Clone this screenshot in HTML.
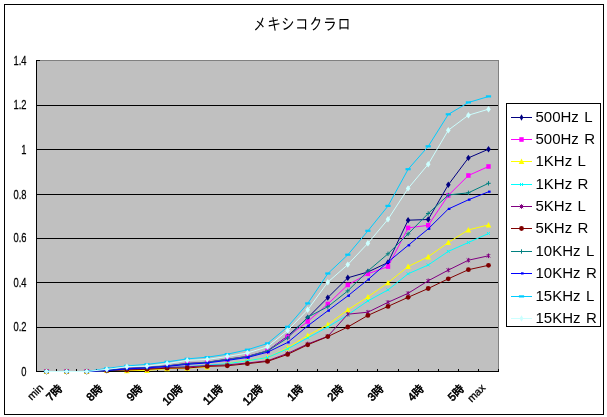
<!DOCTYPE html>
<html lang="ja"><head><meta charset="utf-8"><title>メキシコクラロ</title>
<style>
html,body{margin:0;padding:0;background:#fff;}
body{width:607px;height:417px;overflow:hidden;}
svg{display:block;}
text{font-family:"Liberation Sans","IPAGothic","Noto Sans CJK JP",sans-serif;fill:#000;}
.t{font-family:"Liberation Sans","IPAGothic","Noto Sans CJK JP",sans-serif;font-size:16.5px;}
.y{font-size:12.5px;stroke:#000;stroke-width:0.25px;}
.x{font-size:10.7px;stroke:#000;stroke-width:0.3px;}
.k{font-size:11.3px;stroke-width:0.6px;}
.l{font-size:15px;word-spacing:1.2px;}
</style></head><body>
<svg width="607" height="417" viewBox="0 0 607 417">
<rect x="0" y="0" width="607" height="417" fill="#fff"/>
<rect x="4.5" y="4.5" width="599" height="410" fill="#fff" stroke="#000" stroke-width="1" shape-rendering="crispEdges"/>
<text class="t" transform="translate(302,30) scale(0.85,1)" text-anchor="middle">メキシコクラロ</text>
<g shape-rendering="crispEdges">
<rect x="37" y="60" width="462" height="311" fill="#C0C0C0"/>
<path d="M37,60.5H499M498.5,60V371" stroke="#808080" stroke-width="1" fill="none"/>
<path d="M37,105.5H498M37,149.5H498M37,194.5H498M37,238.5H498M37,282.5H498M37,327.5H498" stroke="#000" stroke-width="1" fill="none"/>
<path d="M36.5,60V372M36,371.5H499" stroke="#000" stroke-width="1" fill="none"/>
<path d="M36,60.5H40" stroke="#000" stroke-width="1" fill="none"/>
<path d="M56.5,369V372M76.5,369V372M96.5,369V372M116.5,369V372M136.5,369V372M157.5,369V372M177.5,369V372M197.5,369V372M217.5,369V372M237.5,369V372M257.5,369V372M277.5,369V372M297.5,369V372M317.5,369V372M337.5,369V372M357.5,369V372M377.5,369V372M398.5,369V372M418.5,369V372M438.5,369V372M458.5,369V372M478.5,369V372M498.5,369V372" stroke="#000" stroke-width="1" fill="none"/>
</g>
<g class="y">
<text transform="translate(26.5,64.5) scale(0.75,1)" text-anchor="end">1.4</text>
<text transform="translate(26.5,108.5) scale(0.75,1)" text-anchor="end">1.2</text>
<text transform="translate(26.5,153.5) scale(0.75,1)" text-anchor="end">1</text>
<text transform="translate(26.5,198.5) scale(0.75,1)" text-anchor="end">0.8</text>
<text transform="translate(26.5,242.0) scale(0.75,1)" text-anchor="end">0.6</text>
<text transform="translate(26.5,286.5) scale(0.75,1)" text-anchor="end">0.4</text>
<text transform="translate(26.5,331.0) scale(0.75,1)" text-anchor="end">0.2</text>
<text transform="translate(26.5,375.5) scale(0.75,1)" text-anchor="end">0</text>
</g>
<g class="x">
<text transform="translate(44.0,388.5) rotate(-45)" text-anchor="end">min</text>
<text class="k" transform="translate(63.2,389.2) rotate(-45)" text-anchor="end">7時</text>
<text class="k" transform="translate(103.4,389.2) rotate(-45)" text-anchor="end">8時</text>
<text class="k" transform="translate(143.6,389.2) rotate(-45)" text-anchor="end">9時</text>
<text class="k" transform="translate(183.8,389.2) rotate(-45)" text-anchor="end">10時</text>
<text class="k" transform="translate(223.9,389.2) rotate(-45)" text-anchor="end">11時</text>
<text class="k" transform="translate(264.1,389.2) rotate(-45)" text-anchor="end">12時</text>
<text class="k" transform="translate(304.3,389.2) rotate(-45)" text-anchor="end">1時</text>
<text class="k" transform="translate(344.4,389.2) rotate(-45)" text-anchor="end">2時</text>
<text class="k" transform="translate(384.6,389.2) rotate(-45)" text-anchor="end">3時</text>
<text class="k" transform="translate(424.8,389.2) rotate(-45)" text-anchor="end">4時</text>
<text class="k" transform="translate(465.0,389.2) rotate(-45)" text-anchor="end">5時</text>
<text transform="translate(486.0,388.5) rotate(-45)" text-anchor="end">max</text>
</g>
<g fill="none" stroke-width="1">
<polyline points="46.5,371.5 66.6,371.5 86.7,371.5 106.8,370.4 126.9,368.4 147.0,367.4 167.1,365.9 187.2,363.4 207.2,362.2 227.3,359.2 247.4,356.4 267.5,350.8 287.6,336.2 307.7,317.8 327.8,297.6 347.8,277.8 367.9,272 388.0,262.5 408.1,220.2 428.2,219.5 448.3,184.8 468.4,157.9 488.5,149.2" stroke="#000080" fill="none"/>
<g><path d="M44.2,371.5L46.5,368.3L48.8,371.5L46.5,374.7Z" fill="#000080"/><path d="M64.3,371.5L66.6,368.3L68.89999999999999,371.5L66.6,374.7Z" fill="#000080"/><path d="M84.4,371.5L86.7,368.3L89.0,371.5L86.7,374.7Z" fill="#000080"/><path d="M104.5,370.4L106.8,367.2L109.1,370.4L106.8,373.59999999999997Z" fill="#000080"/><path d="M124.60000000000001,368.4L126.9,365.2L129.20000000000002,368.4L126.9,371.59999999999997Z" fill="#000080"/><path d="M144.7,367.4L147.0,364.2L149.3,367.4L147.0,370.59999999999997Z" fill="#000080"/><path d="M164.79999999999998,365.9L167.1,362.7L169.4,365.9L167.1,369.09999999999997Z" fill="#000080"/><path d="M184.89999999999998,363.4L187.2,360.2L189.5,363.4L187.2,366.59999999999997Z" fill="#000080"/><path d="M204.89999999999998,362.2L207.2,359.0L209.5,362.2L207.2,365.4Z" fill="#000080"/><path d="M225.0,359.2L227.3,356.0L229.60000000000002,359.2L227.3,362.4Z" fill="#000080"/><path d="M245.1,356.4L247.4,353.2L249.70000000000002,356.4L247.4,359.59999999999997Z" fill="#000080"/><path d="M265.2,350.8L267.5,347.6L269.8,350.8L267.5,354.0Z" fill="#000080"/><path d="M285.3,336.2L287.6,333.0L289.90000000000003,336.2L287.6,339.4Z" fill="#000080"/><path d="M305.4,317.8L307.7,314.6L310.0,317.8L307.7,321.0Z" fill="#000080"/><path d="M325.5,297.6L327.8,294.40000000000003L330.1,297.6L327.8,300.8Z" fill="#000080"/><path d="M345.5,277.8L347.8,274.6L350.1,277.8L347.8,281.0Z" fill="#000080"/><path d="M365.59999999999997,272L367.9,268.8L370.2,272L367.9,275.2Z" fill="#000080"/><path d="M385.7,262.5L388.0,259.3L390.3,262.5L388.0,265.7Z" fill="#000080"/><path d="M405.8,220.2L408.1,217.0L410.40000000000003,220.2L408.1,223.39999999999998Z" fill="#000080"/><path d="M425.9,219.5L428.2,216.3L430.5,219.5L428.2,222.7Z" fill="#000080"/><path d="M446.0,184.8L448.3,181.60000000000002L450.6,184.8L448.3,188.0Z" fill="#000080"/><path d="M466.09999999999997,157.9L468.4,154.70000000000002L470.7,157.9L468.4,161.1Z" fill="#000080"/><path d="M486.2,149.2L488.5,146.0L490.8,149.2L488.5,152.39999999999998Z" fill="#000080"/></g>
<polyline points="46.5,371.5 66.6,371.5 86.7,371.5 106.8,370.4 126.9,368.6 147.0,367.6 167.1,366.1 187.2,363.6 207.2,362.4 227.3,359.6 247.4,356.6 267.5,351 287.6,336.8 307.7,321.5 327.8,304 347.8,284.9 367.9,273.8 388.0,266.6 408.1,227.9 428.2,225.3 448.3,195.4 468.4,175.5 488.5,166.5" stroke="#FF00FF" fill="none"/>
<g><rect x="44.3" y="369.2" width="4.4" height="4.6" fill="#FF00FF"/><rect x="64.39999999999999" y="369.2" width="4.4" height="4.6" fill="#FF00FF"/><rect x="84.5" y="369.2" width="4.4" height="4.6" fill="#FF00FF"/><rect x="104.6" y="368.09999999999997" width="4.4" height="4.6" fill="#FF00FF"/><rect x="124.7" y="366.3" width="4.4" height="4.6" fill="#FF00FF"/><rect x="144.8" y="365.3" width="4.4" height="4.6" fill="#FF00FF"/><rect x="164.9" y="363.8" width="4.4" height="4.6" fill="#FF00FF"/><rect x="185.0" y="361.3" width="4.4" height="4.6" fill="#FF00FF"/><rect x="205.0" y="360.09999999999997" width="4.4" height="4.6" fill="#FF00FF"/><rect x="225.10000000000002" y="357.3" width="4.4" height="4.6" fill="#FF00FF"/><rect x="245.20000000000002" y="354.3" width="4.4" height="4.6" fill="#FF00FF"/><rect x="265.3" y="348.7" width="4.4" height="4.6" fill="#FF00FF"/><rect x="285.40000000000003" y="334.5" width="4.4" height="4.6" fill="#FF00FF"/><rect x="305.5" y="319.2" width="4.4" height="4.6" fill="#FF00FF"/><rect x="325.6" y="301.7" width="4.4" height="4.6" fill="#FF00FF"/><rect x="345.6" y="282.59999999999997" width="4.4" height="4.6" fill="#FF00FF"/><rect x="365.7" y="271.5" width="4.4" height="4.6" fill="#FF00FF"/><rect x="385.8" y="264.3" width="4.4" height="4.6" fill="#FF00FF"/><rect x="405.90000000000003" y="225.6" width="4.4" height="4.6" fill="#FF00FF"/><rect x="426.0" y="223.0" width="4.4" height="4.6" fill="#FF00FF"/><rect x="446.1" y="193.1" width="4.4" height="4.6" fill="#FF00FF"/><rect x="466.2" y="173.2" width="4.4" height="4.6" fill="#FF00FF"/><rect x="486.3" y="164.2" width="4.4" height="4.6" fill="#FF00FF"/></g>
<polyline points="46.5,371.5 66.6,371.5 86.7,371.5 106.8,370.5 126.9,370.6 147.0,370.4 167.1,368.6 187.2,368.2 207.2,366.9 227.3,363.6 247.4,360.6 267.5,357.8 287.6,347.8 307.7,335.5 327.8,324.6 347.8,309.9 367.9,296.9 388.0,282.7 408.1,266.5 428.2,256.8 448.3,242.5 468.4,229.9 488.5,224.9" stroke="#FFFF00" fill="none"/>
<g><path d="M43.7,374.1L46.5,368.5L49.3,374.1Z" fill="#FFFF00"/><path d="M63.8,374.1L66.6,368.5L69.39999999999999,374.1Z" fill="#FFFF00"/><path d="M83.9,374.1L86.7,368.5L89.5,374.1Z" fill="#FFFF00"/><path d="M104.0,373.1L106.8,367.5L109.6,373.1Z" fill="#FFFF00"/><path d="M124.10000000000001,373.20000000000005L126.9,367.6L129.70000000000002,373.20000000000005Z" fill="#FFFF00"/><path d="M144.2,373.0L147.0,367.4L149.8,373.0Z" fill="#FFFF00"/><path d="M164.29999999999998,371.20000000000005L167.1,365.6L169.9,371.20000000000005Z" fill="#FFFF00"/><path d="M184.39999999999998,370.8L187.2,365.2L190.0,370.8Z" fill="#FFFF00"/><path d="M204.39999999999998,369.5L207.2,363.9L210.0,369.5Z" fill="#FFFF00"/><path d="M224.5,366.20000000000005L227.3,360.6L230.10000000000002,366.20000000000005Z" fill="#FFFF00"/><path d="M244.6,363.20000000000005L247.4,357.6L250.20000000000002,363.20000000000005Z" fill="#FFFF00"/><path d="M264.7,360.40000000000003L267.5,354.8L270.3,360.40000000000003Z" fill="#FFFF00"/><path d="M284.8,350.40000000000003L287.6,344.8L290.40000000000003,350.40000000000003Z" fill="#FFFF00"/><path d="M304.9,338.1L307.7,332.5L310.5,338.1Z" fill="#FFFF00"/><path d="M325.0,327.20000000000005L327.8,321.6L330.6,327.20000000000005Z" fill="#FFFF00"/><path d="M345.0,312.5L347.8,306.9L350.6,312.5Z" fill="#FFFF00"/><path d="M365.09999999999997,299.5L367.9,293.9L370.7,299.5Z" fill="#FFFF00"/><path d="M385.2,285.3L388.0,279.7L390.8,285.3Z" fill="#FFFF00"/><path d="M405.3,269.1L408.1,263.5L410.90000000000003,269.1Z" fill="#FFFF00"/><path d="M425.4,259.40000000000003L428.2,253.8L431.0,259.40000000000003Z" fill="#FFFF00"/><path d="M445.5,245.1L448.3,239.5L451.1,245.1Z" fill="#FFFF00"/><path d="M465.59999999999997,232.5L468.4,226.9L471.2,232.5Z" fill="#FFFF00"/><path d="M485.7,227.5L488.5,221.9L491.3,227.5Z" fill="#FFFF00"/></g>
<polyline points="46.5,371.5 66.6,371.5 86.7,371.5 106.8,370.5 126.9,369.7 147.0,368.7 167.1,367.7 187.2,366.6 207.2,365.2 227.3,363.7 247.4,360.8 267.5,357.5 287.6,348.8 307.7,337.9 327.8,327 347.8,314.8 367.9,300.9 388.0,289.9 408.1,273.8 428.2,265 448.3,251.4 468.4,242.5 488.5,233.5" stroke="#00FFFF" fill="none"/>
<g><path d="M45.0,370.0L48.0,373.0M45.0,373.0L48.0,370.0" stroke="#00FFFF" stroke-width="1" fill="none"/><path d="M65.1,370.0L68.1,373.0M65.1,373.0L68.1,370.0" stroke="#00FFFF" stroke-width="1" fill="none"/><path d="M85.2,370.0L88.2,373.0M85.2,373.0L88.2,370.0" stroke="#00FFFF" stroke-width="1" fill="none"/><path d="M105.3,369.0L108.3,372.0M105.3,372.0L108.3,369.0" stroke="#00FFFF" stroke-width="1" fill="none"/><path d="M125.4,368.2L128.4,371.2M125.4,371.2L128.4,368.2" stroke="#00FFFF" stroke-width="1" fill="none"/><path d="M145.5,367.2L148.5,370.2M145.5,370.2L148.5,367.2" stroke="#00FFFF" stroke-width="1" fill="none"/><path d="M165.6,366.2L168.6,369.2M165.6,369.2L168.6,366.2" stroke="#00FFFF" stroke-width="1" fill="none"/><path d="M185.7,365.1L188.7,368.1M185.7,368.1L188.7,365.1" stroke="#00FFFF" stroke-width="1" fill="none"/><path d="M205.7,363.7L208.7,366.7M205.7,366.7L208.7,363.7" stroke="#00FFFF" stroke-width="1" fill="none"/><path d="M225.8,362.2L228.8,365.2M225.8,365.2L228.8,362.2" stroke="#00FFFF" stroke-width="1" fill="none"/><path d="M245.9,359.3L248.9,362.3M245.9,362.3L248.9,359.3" stroke="#00FFFF" stroke-width="1" fill="none"/><path d="M266.0,356.0L269.0,359.0M266.0,359.0L269.0,356.0" stroke="#00FFFF" stroke-width="1" fill="none"/><path d="M286.1,347.3L289.1,350.3M286.1,350.3L289.1,347.3" stroke="#00FFFF" stroke-width="1" fill="none"/><path d="M306.2,336.4L309.2,339.4M306.2,339.4L309.2,336.4" stroke="#00FFFF" stroke-width="1" fill="none"/><path d="M326.3,325.5L329.3,328.5M326.3,328.5L329.3,325.5" stroke="#00FFFF" stroke-width="1" fill="none"/><path d="M346.3,313.3L349.3,316.3M346.3,316.3L349.3,313.3" stroke="#00FFFF" stroke-width="1" fill="none"/><path d="M366.4,299.4L369.4,302.4M366.4,302.4L369.4,299.4" stroke="#00FFFF" stroke-width="1" fill="none"/><path d="M386.5,288.4L389.5,291.4M386.5,291.4L389.5,288.4" stroke="#00FFFF" stroke-width="1" fill="none"/><path d="M406.6,272.3L409.6,275.3M406.6,275.3L409.6,272.3" stroke="#00FFFF" stroke-width="1" fill="none"/><path d="M426.7,263.5L429.7,266.5M426.7,266.5L429.7,263.5" stroke="#00FFFF" stroke-width="1" fill="none"/><path d="M446.8,249.9L449.8,252.9M446.8,252.9L449.8,249.9" stroke="#00FFFF" stroke-width="1" fill="none"/><path d="M466.9,241.0L469.9,244.0M466.9,244.0L469.9,241.0" stroke="#00FFFF" stroke-width="1" fill="none"/><path d="M487.0,232.0L490.0,235.0M487.0,235.0L490.0,232.0" stroke="#00FFFF" stroke-width="1" fill="none"/></g>
<polyline points="46.5,371.5 66.6,371.5 86.7,371.5 106.8,370.5 126.9,369.4 147.0,368.7 167.1,367.4 187.2,366.9 207.2,365.6 227.3,364.9 247.4,363 267.5,360.8 287.6,353.4 307.7,344 327.8,336.3 347.8,314.2 367.9,312.2 388.0,302.3 408.1,293.3 428.2,280.8 448.3,270.1 468.4,260.2 488.5,255.8" stroke="#800080" fill="none"/>
<g><path d="M44.8,369.8L48.2,373.2M44.8,373.2L48.2,369.8M46.5,369.2L46.5,373.8" stroke="#800080" stroke-width="1" fill="none"/><path d="M64.89999999999999,369.8L68.3,373.2M64.89999999999999,373.2L68.3,369.8M66.6,369.2L66.6,373.8" stroke="#800080" stroke-width="1" fill="none"/><path d="M85.0,369.8L88.4,373.2M85.0,373.2L88.4,369.8M86.7,369.2L86.7,373.8" stroke="#800080" stroke-width="1" fill="none"/><path d="M105.1,368.8L108.5,372.2M105.1,372.2L108.5,368.8M106.8,368.2L106.8,372.8" stroke="#800080" stroke-width="1" fill="none"/><path d="M125.2,367.7L128.6,371.09999999999997M125.2,371.09999999999997L128.6,367.7M126.9,367.09999999999997L126.9,371.7" stroke="#800080" stroke-width="1" fill="none"/><path d="M145.3,367.0L148.7,370.4M145.3,370.4L148.7,367.0M147.0,366.4L147.0,371.0" stroke="#800080" stroke-width="1" fill="none"/><path d="M165.4,365.7L168.79999999999998,369.09999999999997M165.4,369.09999999999997L168.79999999999998,365.7M167.1,365.09999999999997L167.1,369.7" stroke="#800080" stroke-width="1" fill="none"/><path d="M185.5,365.2L188.89999999999998,368.59999999999997M185.5,368.59999999999997L188.89999999999998,365.2M187.2,364.59999999999997L187.2,369.2" stroke="#800080" stroke-width="1" fill="none"/><path d="M205.5,363.90000000000003L208.89999999999998,367.3M205.5,367.3L208.89999999999998,363.90000000000003M207.2,363.3L207.2,367.90000000000003" stroke="#800080" stroke-width="1" fill="none"/><path d="M225.60000000000002,363.2L229.0,366.59999999999997M225.60000000000002,366.59999999999997L229.0,363.2M227.3,362.59999999999997L227.3,367.2" stroke="#800080" stroke-width="1" fill="none"/><path d="M245.70000000000002,361.3L249.1,364.7M245.70000000000002,364.7L249.1,361.3M247.4,360.7L247.4,365.3" stroke="#800080" stroke-width="1" fill="none"/><path d="M265.8,359.1L269.2,362.5M265.8,362.5L269.2,359.1M267.5,358.5L267.5,363.1" stroke="#800080" stroke-width="1" fill="none"/><path d="M285.90000000000003,351.7L289.3,355.09999999999997M285.90000000000003,355.09999999999997L289.3,351.7M287.6,351.09999999999997L287.6,355.7" stroke="#800080" stroke-width="1" fill="none"/><path d="M306.0,342.3L309.4,345.7M306.0,345.7L309.4,342.3M307.7,341.7L307.7,346.3" stroke="#800080" stroke-width="1" fill="none"/><path d="M326.1,334.6L329.5,338.0M326.1,338.0L329.5,334.6M327.8,334.0L327.8,338.6" stroke="#800080" stroke-width="1" fill="none"/><path d="M346.1,312.5L349.5,315.9M346.1,315.9L349.5,312.5M347.8,311.9L347.8,316.5" stroke="#800080" stroke-width="1" fill="none"/><path d="M366.2,310.5L369.59999999999997,313.9M366.2,313.9L369.59999999999997,310.5M367.9,309.9L367.9,314.5" stroke="#800080" stroke-width="1" fill="none"/><path d="M386.3,300.6L389.7,304.0M386.3,304.0L389.7,300.6M388.0,300.0L388.0,304.6" stroke="#800080" stroke-width="1" fill="none"/><path d="M406.40000000000003,291.6L409.8,295.0M406.40000000000003,295.0L409.8,291.6M408.1,291.0L408.1,295.6" stroke="#800080" stroke-width="1" fill="none"/><path d="M426.5,279.1L429.9,282.5M426.5,282.5L429.9,279.1M428.2,278.5L428.2,283.1" stroke="#800080" stroke-width="1" fill="none"/><path d="M446.6,268.40000000000003L450.0,271.8M446.6,271.8L450.0,268.40000000000003M448.3,267.8L448.3,272.40000000000003" stroke="#800080" stroke-width="1" fill="none"/><path d="M466.7,258.5L470.09999999999997,261.9M466.7,261.9L470.09999999999997,258.5M468.4,257.9L468.4,262.5" stroke="#800080" stroke-width="1" fill="none"/><path d="M486.8,254.10000000000002L490.2,257.5M486.8,257.5L490.2,254.10000000000002M488.5,253.5L488.5,258.1" stroke="#800080" stroke-width="1" fill="none"/></g>
<polyline points="46.5,371.5 66.6,371.5 86.7,371.5 106.8,370.4 126.9,370.0 147.0,369.3 167.1,368.2 187.2,368.0 207.2,366.4 227.3,365.8 247.4,363.7 267.5,361.4 287.6,354.4 307.7,344.8 327.8,336.6 347.8,327 367.9,315.4 388.0,306.4 408.1,297.3 428.2,288.5 448.3,278.8 468.4,269.7 488.5,265.3" stroke="#800000" fill="none"/>
<g><circle cx="46.5" cy="371.5" r="2.4" fill="#800000"/><circle cx="66.6" cy="371.5" r="2.4" fill="#800000"/><circle cx="86.7" cy="371.5" r="2.4" fill="#800000"/><circle cx="106.8" cy="370.4" r="2.4" fill="#800000"/><circle cx="126.9" cy="370.0" r="2.4" fill="#800000"/><circle cx="147.0" cy="369.3" r="2.4" fill="#800000"/><circle cx="167.1" cy="368.2" r="2.4" fill="#800000"/><circle cx="187.2" cy="368.0" r="2.4" fill="#800000"/><circle cx="207.2" cy="366.4" r="2.4" fill="#800000"/><circle cx="227.3" cy="365.8" r="2.4" fill="#800000"/><circle cx="247.4" cy="363.7" r="2.4" fill="#800000"/><circle cx="267.5" cy="361.4" r="2.4" fill="#800000"/><circle cx="287.6" cy="354.4" r="2.4" fill="#800000"/><circle cx="307.7" cy="344.8" r="2.4" fill="#800000"/><circle cx="327.8" cy="336.6" r="2.4" fill="#800000"/><circle cx="347.8" cy="327" r="2.4" fill="#800000"/><circle cx="367.9" cy="315.4" r="2.4" fill="#800000"/><circle cx="388.0" cy="306.4" r="2.4" fill="#800000"/><circle cx="408.1" cy="297.3" r="2.4" fill="#800000"/><circle cx="428.2" cy="288.5" r="2.4" fill="#800000"/><circle cx="448.3" cy="278.8" r="2.4" fill="#800000"/><circle cx="468.4" cy="269.7" r="2.4" fill="#800000"/><circle cx="488.5" cy="265.3" r="2.4" fill="#800000"/></g>
<polyline points="46.5,371.5 66.6,371.5 86.7,371.5 106.8,370.4 126.9,368.6 147.0,367.6 167.1,366.1 187.2,363.7 207.2,362.4 227.3,359.6 247.4,356.8 267.5,351 287.6,338 307.7,317.2 327.8,306.7 347.8,290.9 367.9,271 388.0,253.8 408.1,233.9 428.2,213.5 448.3,195 468.4,192.8 488.5,183.3" stroke="#008080" fill="none"/>
<g><path d="M44.3,371.5L48.7,371.5M46.5,369.3L46.5,373.7" stroke="#008080" stroke-width="1" fill="none"/><path d="M64.39999999999999,371.5L68.8,371.5M66.6,369.3L66.6,373.7" stroke="#008080" stroke-width="1" fill="none"/><path d="M84.5,371.5L88.9,371.5M86.7,369.3L86.7,373.7" stroke="#008080" stroke-width="1" fill="none"/><path d="M104.6,370.4L109.0,370.4M106.8,368.2L106.8,372.59999999999997" stroke="#008080" stroke-width="1" fill="none"/><path d="M124.7,368.6L129.1,368.6M126.9,366.40000000000003L126.9,370.8" stroke="#008080" stroke-width="1" fill="none"/><path d="M144.8,367.6L149.2,367.6M147.0,365.40000000000003L147.0,369.8" stroke="#008080" stroke-width="1" fill="none"/><path d="M164.9,366.1L169.29999999999998,366.1M167.1,363.90000000000003L167.1,368.3" stroke="#008080" stroke-width="1" fill="none"/><path d="M185.0,363.7L189.39999999999998,363.7M187.2,361.5L187.2,365.9" stroke="#008080" stroke-width="1" fill="none"/><path d="M205.0,362.4L209.39999999999998,362.4M207.2,360.2L207.2,364.59999999999997" stroke="#008080" stroke-width="1" fill="none"/><path d="M225.10000000000002,359.6L229.5,359.6M227.3,357.40000000000003L227.3,361.8" stroke="#008080" stroke-width="1" fill="none"/><path d="M245.20000000000002,356.8L249.6,356.8M247.4,354.6L247.4,359.0" stroke="#008080" stroke-width="1" fill="none"/><path d="M265.3,351L269.7,351M267.5,348.8L267.5,353.2" stroke="#008080" stroke-width="1" fill="none"/><path d="M285.40000000000003,338L289.8,338M287.6,335.8L287.6,340.2" stroke="#008080" stroke-width="1" fill="none"/><path d="M305.5,317.2L309.9,317.2M307.7,315.0L307.7,319.4" stroke="#008080" stroke-width="1" fill="none"/><path d="M325.6,306.7L330.0,306.7M327.8,304.5L327.8,308.9" stroke="#008080" stroke-width="1" fill="none"/><path d="M345.6,290.9L350.0,290.9M347.8,288.7L347.8,293.09999999999997" stroke="#008080" stroke-width="1" fill="none"/><path d="M365.7,271L370.09999999999997,271M367.9,268.8L367.9,273.2" stroke="#008080" stroke-width="1" fill="none"/><path d="M385.8,253.8L390.2,253.8M388.0,251.60000000000002L388.0,256.0" stroke="#008080" stroke-width="1" fill="none"/><path d="M405.90000000000003,233.9L410.3,233.9M408.1,231.70000000000002L408.1,236.1" stroke="#008080" stroke-width="1" fill="none"/><path d="M426.0,213.5L430.4,213.5M428.2,211.3L428.2,215.7" stroke="#008080" stroke-width="1" fill="none"/><path d="M446.1,195L450.5,195M448.3,192.8L448.3,197.2" stroke="#008080" stroke-width="1" fill="none"/><path d="M466.2,192.8L470.59999999999997,192.8M468.4,190.60000000000002L468.4,195.0" stroke="#008080" stroke-width="1" fill="none"/><path d="M486.3,183.3L490.7,183.3M488.5,181.10000000000002L488.5,185.5" stroke="#008080" stroke-width="1" fill="none"/></g>
<polyline points="46.5,371.5 66.6,371.5 86.7,371.5 106.8,370.6 126.9,368.9 147.0,367.9 167.1,366.4 187.2,364.4 207.2,362.9 227.3,360.4 247.4,357.5 267.5,352.2 287.6,342.5 307.7,325.9 327.8,310.8 347.8,295.9 367.9,279.7 388.0,262 408.1,245.4 428.2,228.9 448.3,209 468.4,199.8 488.5,191.8" stroke="#0000FF" fill="none"/>
<g><rect x="46.0" y="370.3" width="2.6" height="2.2" fill="#0000FF"/><rect x="66.1" y="370.3" width="2.6" height="2.2" fill="#0000FF"/><rect x="86.2" y="370.3" width="2.6" height="2.2" fill="#0000FF"/><rect x="106.3" y="369.40000000000003" width="2.6" height="2.2" fill="#0000FF"/><rect x="126.4" y="367.7" width="2.6" height="2.2" fill="#0000FF"/><rect x="146.5" y="366.7" width="2.6" height="2.2" fill="#0000FF"/><rect x="166.6" y="365.2" width="2.6" height="2.2" fill="#0000FF"/><rect x="186.7" y="363.2" width="2.6" height="2.2" fill="#0000FF"/><rect x="206.7" y="361.7" width="2.6" height="2.2" fill="#0000FF"/><rect x="226.8" y="359.2" width="2.6" height="2.2" fill="#0000FF"/><rect x="246.9" y="356.3" width="2.6" height="2.2" fill="#0000FF"/><rect x="267.0" y="351.0" width="2.6" height="2.2" fill="#0000FF"/><rect x="287.1" y="341.3" width="2.6" height="2.2" fill="#0000FF"/><rect x="307.2" y="324.7" width="2.6" height="2.2" fill="#0000FF"/><rect x="327.3" y="309.6" width="2.6" height="2.2" fill="#0000FF"/><rect x="347.3" y="294.7" width="2.6" height="2.2" fill="#0000FF"/><rect x="367.4" y="278.5" width="2.6" height="2.2" fill="#0000FF"/><rect x="387.5" y="260.8" width="2.6" height="2.2" fill="#0000FF"/><rect x="407.6" y="244.20000000000002" width="2.6" height="2.2" fill="#0000FF"/><rect x="427.7" y="227.70000000000002" width="2.6" height="2.2" fill="#0000FF"/><rect x="447.8" y="207.8" width="2.6" height="2.2" fill="#0000FF"/><rect x="467.9" y="198.60000000000002" width="2.6" height="2.2" fill="#0000FF"/><rect x="488.0" y="190.60000000000002" width="2.6" height="2.2" fill="#0000FF"/></g>
<polyline points="46.5,371.5 66.6,371.5 86.7,371.5 106.8,368.4 126.9,365.9 147.0,364.4 167.1,361.9 187.2,358.9 207.2,357.2 227.3,354.2 247.4,349.8 267.5,343.5 287.6,326.9 307.7,303.5 327.8,273.6 347.8,254.8 367.9,230.9 388.0,206 408.1,169.3 428.2,146.4 448.3,114.4 468.4,102.5 488.5,96.5" stroke="#00CCFF" fill="none"/>
<g><rect x="43.9" y="370.3" width="5.2" height="2.2" fill="#00CCFF"/><rect x="63.99999999999999" y="370.3" width="5.2" height="2.2" fill="#00CCFF"/><rect x="84.10000000000001" y="370.3" width="5.2" height="2.2" fill="#00CCFF"/><rect x="104.2" y="367.2" width="5.2" height="2.2" fill="#00CCFF"/><rect x="124.30000000000001" y="364.7" width="5.2" height="2.2" fill="#00CCFF"/><rect x="144.4" y="363.2" width="5.2" height="2.2" fill="#00CCFF"/><rect x="164.5" y="360.7" width="5.2" height="2.2" fill="#00CCFF"/><rect x="184.6" y="357.7" width="5.2" height="2.2" fill="#00CCFF"/><rect x="204.6" y="356.0" width="5.2" height="2.2" fill="#00CCFF"/><rect x="224.70000000000002" y="353.0" width="5.2" height="2.2" fill="#00CCFF"/><rect x="244.8" y="348.6" width="5.2" height="2.2" fill="#00CCFF"/><rect x="264.9" y="342.3" width="5.2" height="2.2" fill="#00CCFF"/><rect x="285.0" y="325.7" width="5.2" height="2.2" fill="#00CCFF"/><rect x="305.09999999999997" y="302.3" width="5.2" height="2.2" fill="#00CCFF"/><rect x="325.2" y="272.40000000000003" width="5.2" height="2.2" fill="#00CCFF"/><rect x="345.2" y="253.60000000000002" width="5.2" height="2.2" fill="#00CCFF"/><rect x="365.29999999999995" y="229.70000000000002" width="5.2" height="2.2" fill="#00CCFF"/><rect x="385.4" y="204.8" width="5.2" height="2.2" fill="#00CCFF"/><rect x="405.5" y="168.10000000000002" width="5.2" height="2.2" fill="#00CCFF"/><rect x="425.59999999999997" y="145.20000000000002" width="5.2" height="2.2" fill="#00CCFF"/><rect x="445.7" y="113.2" width="5.2" height="2.2" fill="#00CCFF"/><rect x="465.79999999999995" y="101.3" width="5.2" height="2.2" fill="#00CCFF"/><rect x="485.9" y="95.3" width="5.2" height="2.2" fill="#00CCFF"/></g>
<polyline points="46.5,371.5 66.6,371.5 86.7,371.5 106.8,369.4 126.9,366.7 147.0,366.1 167.1,363.6 187.2,360.4 207.2,359.4 227.3,356.5 247.4,353 267.5,346.8 287.6,330.5 307.7,309.8 327.8,282.2 347.8,264.6 367.9,243.3 388.0,219.3 408.1,188.4 428.2,164.3 448.3,130.2 468.4,115.2 488.5,109.2" stroke="#CCFFFF" fill="none"/>
<g><path d="M44.2,371.5L46.5,368.3L48.8,371.5L46.5,374.7Z" fill="#CCFFFF"/><path d="M64.3,371.5L66.6,368.3L68.89999999999999,371.5L66.6,374.7Z" fill="#CCFFFF"/><path d="M84.4,371.5L86.7,368.3L89.0,371.5L86.7,374.7Z" fill="#CCFFFF"/><path d="M104.5,369.4L106.8,366.2L109.1,369.4L106.8,372.59999999999997Z" fill="#CCFFFF"/><path d="M124.60000000000001,366.7L126.9,363.5L129.20000000000002,366.7L126.9,369.9Z" fill="#CCFFFF"/><path d="M144.7,366.1L147.0,362.90000000000003L149.3,366.1L147.0,369.3Z" fill="#CCFFFF"/><path d="M164.79999999999998,363.6L167.1,360.40000000000003L169.4,363.6L167.1,366.8Z" fill="#CCFFFF"/><path d="M184.89999999999998,360.4L187.2,357.2L189.5,360.4L187.2,363.59999999999997Z" fill="#CCFFFF"/><path d="M204.89999999999998,359.4L207.2,356.2L209.5,359.4L207.2,362.59999999999997Z" fill="#CCFFFF"/><path d="M225.0,356.5L227.3,353.3L229.60000000000002,356.5L227.3,359.7Z" fill="#CCFFFF"/><path d="M245.1,353L247.4,349.8L249.70000000000002,353L247.4,356.2Z" fill="#CCFFFF"/><path d="M265.2,346.8L267.5,343.6L269.8,346.8L267.5,350.0Z" fill="#CCFFFF"/><path d="M285.3,330.5L287.6,327.3L289.90000000000003,330.5L287.6,333.7Z" fill="#CCFFFF"/><path d="M305.4,309.8L307.7,306.6L310.0,309.8L307.7,313.0Z" fill="#CCFFFF"/><path d="M325.5,282.2L327.8,279.0L330.1,282.2L327.8,285.4Z" fill="#CCFFFF"/><path d="M345.5,264.6L347.8,261.40000000000003L350.1,264.6L347.8,267.8Z" fill="#CCFFFF"/><path d="M365.59999999999997,243.3L367.9,240.10000000000002L370.2,243.3L367.9,246.5Z" fill="#CCFFFF"/><path d="M385.7,219.3L388.0,216.10000000000002L390.3,219.3L388.0,222.5Z" fill="#CCFFFF"/><path d="M405.8,188.4L408.1,185.20000000000002L410.40000000000003,188.4L408.1,191.6Z" fill="#CCFFFF"/><path d="M425.9,164.3L428.2,161.10000000000002L430.5,164.3L428.2,167.5Z" fill="#CCFFFF"/><path d="M446.0,130.2L448.3,126.99999999999999L450.6,130.2L448.3,133.39999999999998Z" fill="#CCFFFF"/><path d="M466.09999999999997,115.2L468.4,112.0L470.7,115.2L468.4,118.4Z" fill="#CCFFFF"/><path d="M486.2,109.2L488.5,106.0L490.8,109.2L488.5,112.4Z" fill="#CCFFFF"/></g>
</g>
<rect x="506.5" y="103.5" width="94" height="223" fill="#fff" stroke="#000" stroke-width="1" shape-rendering="crispEdges"/>
<path d="M511,117.5H532" stroke="#000080" stroke-width="1" fill="none" shape-rendering="crispEdges"/><path d="M519.6,117.5L521.5,114.3L523.4,117.5L521.5,120.7Z" fill="#000080"/><text class="l" x="535.5" y="122.0">500Hz L</text>
<path d="M511,139.5H532" stroke="#FF00FF" stroke-width="1" fill="none" shape-rendering="crispEdges"/><rect x="519.3" y="137.2" width="4.4" height="4.6" fill="#FF00FF"/><text class="l" x="535.5" y="144.0">500Hz R</text>
<path d="M511,161.5H532" stroke="#FFFF00" stroke-width="1" fill="none" shape-rendering="crispEdges"/><path d="M518.7,164.1L521.5,158.5L524.3,164.1Z" fill="#FFFF00"/><text class="l" x="535.5" y="166.0">1KHz L</text>
<path d="M511,184.5H532" stroke="#00FFFF" stroke-width="1" fill="none" shape-rendering="crispEdges"/><path d="M520.0,183.0L523.0,186.0M520.0,186.0L523.0,183.0" stroke="#00FFFF" stroke-width="1" fill="none"/><text class="l" x="535.5" y="189.0">1KHz R</text>
<path d="M511,206.5H532" stroke="#800080" stroke-width="1" fill="none" shape-rendering="crispEdges"/><path d="M519.8,204.8L523.2,208.2M519.8,208.2L523.2,204.8M521.5,204.2L521.5,208.8" stroke="#800080" stroke-width="1" fill="none"/><text class="l" x="535.5" y="211.0">5KHz L</text>
<path d="M511,228.5H532" stroke="#800000" stroke-width="1" fill="none" shape-rendering="crispEdges"/><circle cx="521.5" cy="228.5" r="2.4" fill="#800000"/><text class="l" x="535.5" y="233.0">5KHz R</text>
<path d="M511,251.5H532" stroke="#008080" stroke-width="1" fill="none" shape-rendering="crispEdges"/><path d="M519.3,251.5L523.7,251.5M521.5,249.3L521.5,253.7" stroke="#008080" stroke-width="1" fill="none"/><text class="l" x="535.5" y="256.0">10KHz L</text>
<path d="M511,273.5H532" stroke="#0000FF" stroke-width="1" fill="none" shape-rendering="crispEdges"/><rect x="521.0" y="272.3" width="2.6" height="2.2" fill="#0000FF"/><text class="l" x="535.5" y="278.0">10KHz R</text>
<path d="M511,296.5H532" stroke="#00CCFF" stroke-width="1" fill="none" shape-rendering="crispEdges"/><rect x="518.9" y="295.3" width="5.2" height="2.2" fill="#00CCFF"/><text class="l" x="535.5" y="301.0">15KHz L</text>
<path d="M511,318.5H532" stroke="#CCFFFF" stroke-width="1" fill="none" shape-rendering="crispEdges"/><path d="M519.6,318.5L521.5,315.3L523.4,318.5L521.5,321.7Z" fill="#CCFFFF"/><text class="l" x="535.5" y="323.0">15KHz R</text>
</svg>
</body></html>
